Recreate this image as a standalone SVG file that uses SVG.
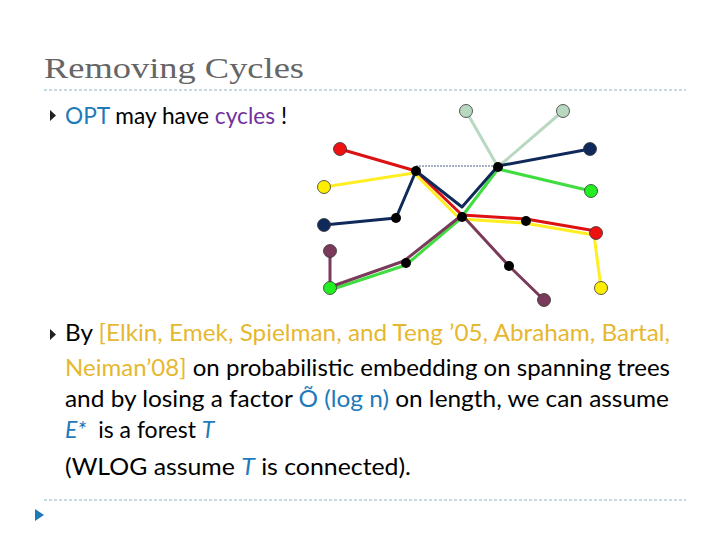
<svg xmlns="http://www.w3.org/2000/svg" width="720" height="540" viewBox="0 0 720 540">
<style>
.t{font-family:Lato,"Liberation Sans",sans-serif;font-size:23px;fill:#000}
.b{fill:#1e7ab8}.g{fill:#e6b830}.p{fill:#7030a0}
.e{fill:none;stroke-width:3;stroke-linejoin:round}
.n{stroke:#333;stroke-width:0.8}
.k{fill:#000}
</style>
<rect width="720" height="540" fill="#fff"/>
<text x="44" y="78" font-family="Liberation Serif,serif" font-size="30" fill="#666" textLength="260" lengthAdjust="spacingAndGlyphs">Removing Cycles</text>
<line x1="44" y1="90" x2="686" y2="90" stroke="#8fb3c3" stroke-dasharray="3,2"/>
<line x1="44" y1="500" x2="686" y2="500" stroke="#8fb3c3" stroke-dasharray="3,2"/>
<polygon points="50,110 56,115.5 50,121" fill="#222"/>
<polygon points="50,329 56,334.5 50,340" fill="#222"/>
<polygon points="35,509 44,515 35,521" fill="#1e7ab8"/>
<text class="t" x="65" y="124" textLength="222" lengthAdjust="spacingAndGlyphs"><tspan class="b">OPT</tspan> may have <tspan class="p">cycles</tspan> !</text>
<text class="t" x="65" y="341" textLength="605" lengthAdjust="spacingAndGlyphs">By <tspan class="g">[Elkin, Emek, Spielman, and Teng ’05, Abraham, Bartal,</tspan></text>
<text class="t" x="65" y="376" textLength="605" lengthAdjust="spacingAndGlyphs"><tspan class="g">Neiman’08]</tspan> on probabilistic embedding on spanning trees</text>
<text class="t" x="65" y="407" textLength="604" lengthAdjust="spacingAndGlyphs">and by losing a factor <tspan class="b">Õ (log n)</tspan> on length, we can assume</text>
<text class="t" x="65" y="438" xml:space="preserve"><tspan class="b" font-style="italic">E*</tspan>  is a forest <tspan class="b" font-style="italic">T</tspan></text>
<text class="t" x="65" y="475" textLength="346" lengthAdjust="spacingAndGlyphs">(WLOG assume <tspan class="b" font-style="italic">T</tspan> is connected).</text>
<g id="connectors">
<line x1="416" y1="166" x2="498" y2="166" stroke="#1a3a6a" stroke-width="0.8" stroke-dasharray="2,1"/>
<polyline class="e" stroke="#b8d8c0" stroke-width="4" points="466,111 498,167 563,111"/>
<polyline class="e" stroke="#ffee22" points="324,187 414,173 460,219 524,223 594,235 601,288"/>
<polyline class="e" stroke="#dd1111" points="340,149 416,171 462,215 526,219 596,231"/>
<polyline class="e" stroke="#3fdd3f" points="591,191 498,169 460,219 406,265 330,290"/>
<polyline class="e" stroke="#7a3a5a" points="330,251 330,287 404,261 462,215 509,266 544,300"/>
<polyline class="e" stroke="#0f2a5a" points="324,225 396,218 416,171 462,207 498,166 590,149"/>
</g>
<g id="nodes">
<circle id="lg1" class="n" cx="466" cy="111" r="6.5" fill="#b8d8c0"/>
<circle id="lg2" class="n" cx="563" cy="111" r="6.5" fill="#b8d8c0"/>
<circle id="r1" class="n" cx="340" cy="149" r="6.5" fill="#ee1111"/>
<circle id="db1" class="n" cx="590" cy="149" r="6.5" fill="#0f2a5a"/>
<circle id="y1" class="n" cx="324" cy="187" r="6.5" fill="#ffee00"/>
<circle id="g1" class="n" cx="591" cy="191" r="6.5" fill="#22ee22"/>
<circle id="db2" class="n" cx="324" cy="225" r="6.5" fill="#0f2a5a"/>
<circle id="r2" class="n" cx="596" cy="233" r="6.5" fill="#ee1111"/>
<circle id="p1" class="n" cx="330" cy="251" r="6.5" fill="#7a3a5a"/>
<circle id="g2" class="n" cx="330" cy="288" r="6.5" fill="#22ee22"/>
<circle id="p2" class="n" cx="544" cy="300" r="6.5" fill="#7a3a5a"/>
<circle id="y2" class="n" cx="601" cy="288" r="6.5" fill="#ffee00"/>
<circle id="A" class="k" cx="416" cy="171" r="5"/>
<circle id="B" class="k" cx="498" cy="167" r="5"/>
<circle id="C" class="k" cx="396" cy="218" r="5"/>
<circle id="D" class="k" cx="462" cy="217" r="5"/>
<circle id="E" class="k" cx="526" cy="221" r="5"/>
<circle id="F" class="k" cx="406" cy="263" r="5"/>
<circle id="G" class="k" cx="509" cy="266" r="5"/>
</g>
</svg>
